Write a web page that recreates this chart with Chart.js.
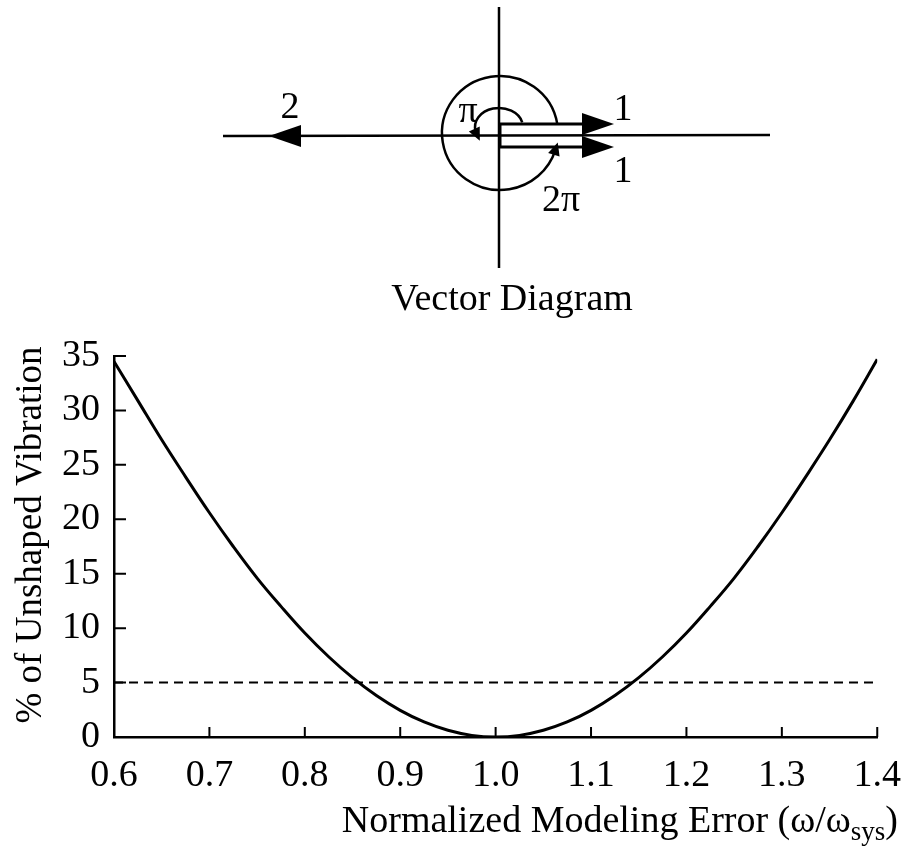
<!DOCTYPE html>
<html>
<head>
<meta charset="utf-8">
<script src="https://cdn.jsdelivr.net/npm/chart.js@4.4.1/dist/chart.umd.min.js"></script>
<style>
  html, body { margin: 0; padding: 0; background: #fff; }
</style>
</head>
<body>
<canvas id="chart-0" width="917" height="846"></canvas>
<script>
// frequency ratio (omega / omega_sys)
const ratio = [0.6, 0.625, 0.65, 0.675, 0.7, 0.725, 0.75, 0.775, 0.8, 0.825, 0.85, 0.875, 0.9, 0.925, 0.95, 0.975,
  1.0, 1.025, 1.05, 1.075, 1.1, 1.125, 1.15, 1.175, 1.2, 1.225, 1.25, 1.275, 1.3, 1.325, 1.35, 1.375, 1.4];
// % of unshaped vibration at each ratio
const vibration = [34.5, 30.9, 27.3, 23.9, 20.6, 17.5, 14.6, 12.0, 9.55, 7.37, 5.45, 3.81, 2.45, 1.38, 0.62, 0.15,
  0, 0.15, 0.62, 1.38, 2.45, 3.81, 5.45, 7.37, 9.55, 12.0, 14.6, 17.5, 20.6, 23.9, 27.3, 30.9, 34.7];
// 5% tolerance line
const limitX = [0.6, 1.4];
const limitY = [5, 5];

const xTicks = [0.6, 0.7, 0.8, 0.9, 1.0, 1.1, 1.2, 1.3, 1.4];
const yTicks = [0, 5, 10, 15, 20, 25, 30, 35];

const SERIF = "'Liberation Serif', 'DejaVu Serif', serif";

function arrowHead(ctx, tx, ty, ang, len, half) {
  // filled triangle with its tip at (tx, ty), pointing along ang
  const bx = tx - Math.cos(ang) * len, by = ty - Math.sin(ang) * len;
  const px = -Math.sin(ang) * half, py = Math.cos(ang) * half;
  ctx.beginPath();
  ctx.moveTo(tx, ty);
  ctx.lineTo(bx + px, by + py);
  ctx.lineTo(bx - px, by - py);
  ctx.closePath();
  ctx.fill();
}

function ellipseArc(ctx, cx, cy, rx, ry, a0, a1, headLen, headHalf) {
  ctx.beginPath();
  ctx.ellipse(cx, cy, rx, ry, 0, a0, a1, true);
  ctx.stroke();
  // direction of travel at a1 when going anticlockwise
  const dx = rx * Math.sin(a1), dy = -ry * Math.cos(a1);
  const ex = cx + rx * Math.cos(a1), ey = cy + ry * Math.sin(a1);
  const ang = Math.atan2(dy, dx);
  arrowHead(ctx, ex + Math.cos(ang) * headLen * 0.6, ey + Math.sin(ang) * headLen * 0.6, ang, headLen, headHalf);
}

function drawVectorDiagram(ctx) {
  const ox = 499, oy = 135;
  ctx.strokeStyle = '#000';
  ctx.fillStyle = '#000';
  ctx.lineWidth = 2.5;
  ctx.beginPath();
  ctx.moveTo(223, oy + 1); ctx.lineTo(770, oy);
  ctx.moveTo(ox, 7); ctx.lineTo(ox, 268);
  ctx.stroke();

  // vector "2" along the negative axis
  arrowHead(ctx, 269, oy + 1, Math.PI, 32, 11);

  // two unit vectors, drawn just above and below the axis
  ctx.lineWidth = 3;
  ctx.beginPath();
  ctx.moveTo(ox, 124); ctx.lineTo(585, 124);
  ctx.moveTo(ox, 147); ctx.lineTo(585, 147);
  ctx.moveTo(ox + 1, 124); ctx.lineTo(ox + 1, 147);
  ctx.stroke();
  arrowHead(ctx, 614, 124, 0, 32, 11);
  arrowHead(ctx, 614, 147, 0, 32, 11);

  // rotation arcs
  ctx.lineWidth = 2.5;
  ellipseArc(ctx, 500, 133, 58, 57, -0.16, 0.3, 13, 6);
  ellipseArc(ctx, 499, 127, 24, 19, -0.25, -3.5, 13, 6);

  ctx.textAlign = 'center';
  ctx.textBaseline = 'middle';
  ctx.font = '38px ' + SERIF;
  ctx.fillText('2', 290, 108);
  ctx.fillText('1', 623, 110);
  ctx.fillText('1', 623, 172);
  ctx.fillText('2\u03c0', 561, 201);
  ctx.fillText('\u03c0', 468, 112);
  ctx.fillText('Vector Diagram', 512, 300);
}

const extras = {
  id: 'extras',
  afterDraw(chart) {
    const ctx = chart.ctx;
    const x = chart.scales.x, y = chart.scales.y;
    ctx.save();
    ctx.strokeStyle = '#000';
    ctx.lineWidth = 2;
    // inward tick marks
    ctx.beginPath();
    y.ticks.forEach(t => {
      const py = y.getPixelForValue(t.value);
      ctx.moveTo(x.left, py); ctx.lineTo(x.left + 12, py);
    });
    x.ticks.forEach(t => {
      const px = x.getPixelForValue(t.value);
      ctx.moveTo(px, y.bottom); ctx.lineTo(px, y.bottom - 10);
    });
    ctx.stroke();

    // y title
    ctx.fillStyle = '#000';
    ctx.save();
    ctx.translate(31, 535);
    ctx.rotate(-Math.PI / 2);
    ctx.textAlign = 'center';
    ctx.textBaseline = 'middle';
    ctx.font = '37px ' + SERIF;
    ctx.fillText('% of Unshaped Vibration', 0, 0);
    ctx.restore();

    // x title with subscript, right aligned to the plot
    ctx.textBaseline = 'alphabetic';
    ctx.textAlign = 'left';
    const main = 'Normalized Modeling Error (\u03c9/\u03c9';
    const sub = 'sys';
    const close = ')';
    ctx.font = '38px ' + SERIF;
    const w1 = ctx.measureText(main).width;
    const w3 = ctx.measureText(close).width;
    ctx.font = '27px ' + SERIF;
    const w2 = ctx.measureText(sub).width;
    let tx = 898 - (w1 + w2 + w3);
    const base = 832;
    ctx.font = '38px ' + SERIF;
    ctx.fillText(main, tx, base);
    ctx.font = '27px ' + SERIF;
    ctx.fillText(sub, tx + w1, base + 8);
    ctx.font = '38px ' + SERIF;
    ctx.fillText(close, tx + w1 + w2, base);

    drawVectorDiagram(ctx);
    ctx.restore();
  }
};

new Chart(document.getElementById('chart-0'), {
  type: 'line',
  data: {
    datasets: [
      {
        data: ratio.map((r, i) => ({ x: r, y: vibration[i] })),
        borderColor: '#000',
        borderWidth: 3,
        pointRadius: 0,
        tension: 0.4,
        fill: false
      },
      {
        data: limitX.map((r, i) => ({ x: r, y: limitY[i] })),
        borderColor: '#000',
        borderWidth: 2,
        borderDash: [9, 6],
        pointRadius: 0,
        fill: false
      }
    ]
  },
  plugins: [extras],
  options: {
    responsive: false,
    animation: false,
    layout: { padding: { top: 356, right: 29, left: 0, bottom: 0 } },
    plugins: { legend: { display: false }, tooltip: { enabled: false } },
    scales: {
      x: {
        type: 'linear',
        min: 0.6,
        max: 1.4,
        afterBuildTicks: s => { s.ticks = xTicks.map(v => ({ value: v })); },
        afterFit: s => { s.height = 109; },
        grid: { display: false, drawTicks: false },
        border: { display: true, color: '#000', width: 2.5 },
        ticks: {
          color: '#000',
          padding: 16,
          maxRotation: 0,
          font: { family: SERIF, size: 38 },
          callback: v => Number(v).toFixed(1)
        }
      },
      y: {
        min: 0,
        max: 35,
        afterBuildTicks: s => { s.ticks = yTicks.map(v => ({ value: v })); },
        afterFit: s => { s.width = 114; },
        grid: { display: false, drawTicks: false },
        border: { display: true, color: '#000', width: 2.5 },
        ticks: {
          color: '#000',
          padding: 14,
          font: { family: SERIF, size: 38 }
        }
      }
    }
  }
});
</script>
</body>
</html>
